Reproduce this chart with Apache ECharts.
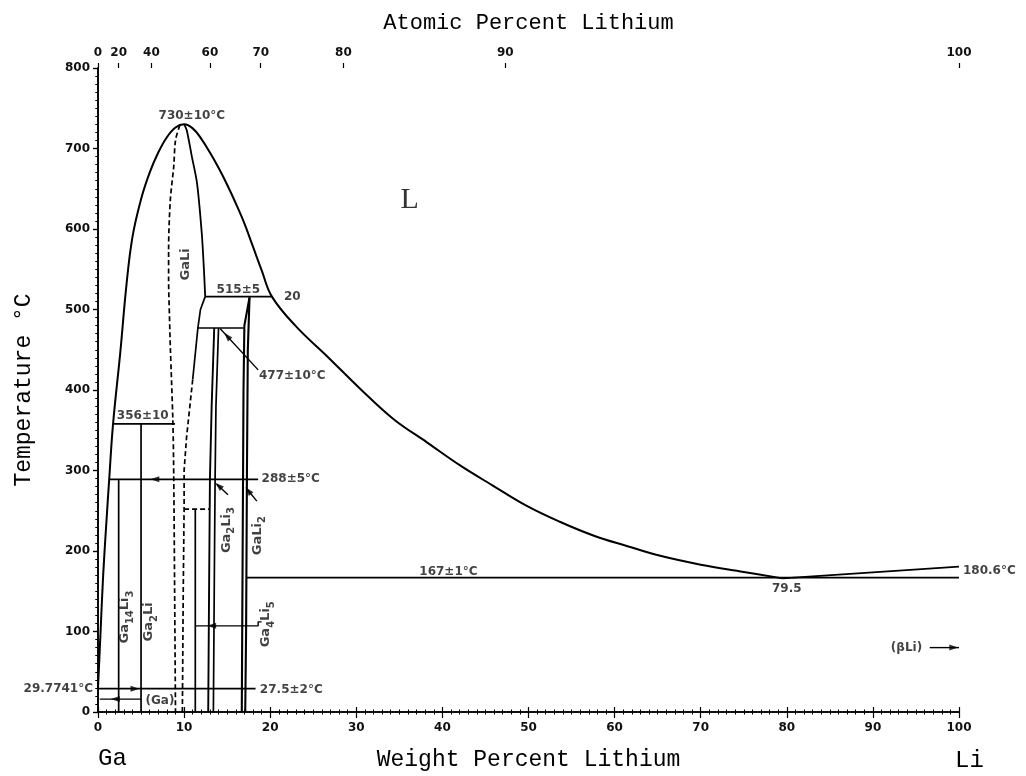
<!DOCTYPE html>
<html>
<head>
<meta charset="utf-8">
<script src="https://cdn.jsdelivr.net/npm/echarts@6/dist/echarts.min.js"></script>
<style>html,body{margin:0;padding:0;background:#fff}#c{width:1026px;height:776px}</style>
</head>
<body>
<div id="c"></div>
<script>
// ---------- DATA (wt% Li, temperature °C) ----------
const liquidus = [[0,29.8],[0.3,100],[0.6,170],[1.0,240],[1.3,289],[1.75,358],[2.6,448],[3.3,530],[4.0,590],[5.0,637],[6.0,670],[7.0,695],[8.0,714],[9.0,726],[10.0,730],[11.0,725],[12.0,712],[13.0,695],[14.0,676],[15.0,655],[16.0,632],[17.0,607],[18.0,578],[19.0,549],[20.2,516],[23.0,479],[26.6,442],[30.5,401],[34.3,364],[38.2,335],[42.1,306],[45.9,281],[49.8,256],[53.7,236],[57.6,219],[61.5,206],[65.3,194],[70,183],[75,174],[79.5,166]];
const liquidusLi = [[79.5,166],[100,180.6]];
const gaLiRightUpper = [[10.0,730],[10.3,723],[10.9,690],[11.5,657],[12.05,595],[12.3,550],[12.45,516]];
const gaLiRightMid = [[12.45,516],[11.9,500],[11.6,477],[11.0,413]];
const gaLiRightDashed = [[11.0,413],[10.3,343],[10.0,300],[10.0,252],[9.9,150],[9.8,0]];
const gaLiLeftDashed = [[9.5,729],[9.0,710],[8.8,678],[8.4,636],[8.2,574],[8.2,537],[8.3,492],[8.4,454],[8.7,360],[8.8,289],[8.9,150],[9.0,0]];
const step252 = [[10.0,252],[13.0,252]];
const ga14li3 = [[2.4,289],[2.4,0]];
const ga2li = [[5.0,358],[5.0,0]];
const ga4li5 = [[11.3,252],[11.3,0]];
const ga2li3Left = [[13.5,477],[13.2,380],[13.0,289],[12.9,150],[12.8,0]];
const ga2li3Right = [[14.0,477],[13.7,380],[13.6,289],[13.5,150],[13.4,0]];
const gaLi2Left = [[17.6,515],[17.0,480],[16.9,400],[16.8,200],[16.7,0]];
const gaLi2Right = [[17.6,515],[17.4,450],[17.3,300],[17.2,100],[17.1,0]];
const line356 = [[1.75,358],[8.95,358]];
const line515 = [[12.45,516],[20.2,516]];
const line477 = [[11.6,477],[16.9,477]];
const line288 = [[1.3,289],[18.6,289]];
const line27 = [[0,29],[18.3,29]];
const line167 = [[17.3,167],[100,167]];
const leaderGa = [[0.2,16],[5.0,16]];
const leader477 = [[14.2,476],[18.6,425]];
const leaderGa2Li3 = [[13.8,283],[15.1,270]];
const leaderGaLi2 = [[17.3,277],[18.45,262]];
const leaderGa4Li5 = [[11.3,107],[18.6,107],[18.6,112],[19.0,112]];
const leaderBetaLi = [[96.6,80],[100,80]];
// arrow heads: [x, T, rotation]
const arrowHeads = [[6.6,289,90],[13.2,107,90],[4.3,29,-90],[2.0,16,90],[99.4,80,-90],[15.0,467,42],[14.0,281,48],[17.45,275,40]];
// annotation texts and anchors
const noteText = ['730±10°C','515±5','20','356±10','477±10°C','288±5°C','27.5±2°C','29.7741°C','(Ga)','167±1°C','79.5','180.6°C','(βLi)'];
const noteX = [10.9,16.3,21.6,5.2,18.7,19.0,18.8,0,7.2,40.7,80.0,100,96.3];
const noteT = [740,524,516,368,418,289,28,29,14,174,153,175,80];
const noteAlign = ['center','center','left','center','left','left','left','right','center','center','center','left','right'];
const phaseText = ['GaLi','Ga₁₄Li₃','Ga₂Li','Ga₂Li₃','GaLi₂','Ga₄Li₅'];
const phaseX = [10.3,3.2,6.0,15.0,18.6,19.6];
const phaseT = [556,118,112,226,219,109];
// top axis: atomic % Li labels and their wt% positions
const topTickAt = [0,20,40,60,70,80,90,100];
const topTickWt = [0,2.4,6.2,13.0,18.9,28.5,47.3,100];

// ---------- CHART ----------
const chart = echarts.init(document.getElementById('c'), null, {renderer:'canvas'});
const numFont = {fontFamily:'DejaVu Sans, Liberation Sans, sans-serif', fontSize:12, fontWeight:'bold', color:'#111'};
const titleFont = {fontFamily:'Liberation Mono, Courier New, monospace', fontSize:23, color:'#000'};
const K = '#000';
const SUB = '₀₁₂₃₄₅₆₇₈₉';
function toRich(t) {
  let out = '', cur = '', mode = null;
  for (const ch of t) {
    const d = SUB.indexOf(ch);
    const m = d >= 0 ? 's' : 'm';
    const c = d >= 0 ? String(d) : ch;
    if (m !== mode && cur) { out += '{' + mode + '|' + cur + '}'; cur = ''; }
    mode = m; cur += c;
  }
  if (cur) out += '{' + mode + '|' + cur + '}';
  return out;
}
const phaseRich = {
  m:{fontFamily:'DejaVu Sans, sans-serif', fontSize:13, fontWeight:'bold', color:'#111', lineHeight:15, verticalAlign:'top'},
  s:{fontFamily:'DejaVu Sans, sans-serif', fontSize:10, fontWeight:'bold', color:'#111', lineHeight:11, padding:[7,0,0,0], verticalAlign:'top'}
};
function ln(data, opt) {
  opt = opt || {};
  return {type:'line', data:data, xAxisIndex:0, yAxisIndex:0, showSymbol:false, symbol:'none', silent:true,
    smooth: opt.smooth || false, clip:false, animation:false, z:3,
    lineStyle:{color:K, width: opt.w || 1.7, type: opt.dash ? [5,3] : 'solid'}};
}
const series = [
  ln(liquidus, {smooth:0.4, w:2}),
  ln(liquidusLi, {w:1.8}),
  ln(gaLiRightUpper, {smooth:0.3, w:1.8}),
  ln(gaLiRightMid),
  ln(gaLiRightDashed, {dash:true}),
  ln(gaLiLeftDashed, {dash:true, smooth:0.3}),
  ln(step252, {dash:true}),
  ln(ga14li3), ln(ga2li), ln(ga4li5),
  ln(ga2li3Left, {w:1.9}), ln(ga2li3Right, {w:1.7}),
  ln(gaLi2Left, {w:2.1}), ln(gaLi2Right, {w:2.1}),
  ln(line356), ln(line515), ln(line477), ln(line288), ln(line27), ln(line167, {w:1.8}),
  ln(leaderGa, {w:1.4}), ln(leader477, {w:1.4}), ln(leaderGa2Li3, {w:1.4}), ln(leaderGaLi2, {w:1.4}),
  ln(leaderGa4Li5, {w:1.4}), ln(leaderBetaLi, {w:1.4}),
  {type:'scatter', xAxisIndex:0, yAxisIndex:0, silent:true, animation:false, z:4,
   symbol:'triangle', symbolSize:[6,9], itemStyle:{color:K},
   data: arrowHeads.map(a => ({value:[a[0],a[1]], symbolRotate:a[2]}))},
  {type:'scatter', xAxisIndex:0, yAxisIndex:0, silent:true, animation:false, z:5, symbolSize:1,
   itemStyle:{color:'rgba(0,0,0,0)'},
   data: noteText.map((t,i) => ({value:[noteX[i], noteT[i]], label:{show:true, position:'inside',
     formatter:t, align:noteAlign[i], verticalAlign:'middle',
     offset:[noteAlign[i]==='right' ? -5 : (noteAlign[i]==='left' && noteX[i]===100 ? 4 : 0), 0],
     ...numFont}}))},
  {type:'scatter', xAxisIndex:0, yAxisIndex:0, silent:true, animation:false, z:5, symbolSize:1,
   itemStyle:{color:'rgba(0,0,0,0)'},
   data: phaseText.map((t,i) => ({value:[phaseX[i], phaseT[i]], label:{show:true, position:'inside',
     formatter:toRich(t), rotate:90, align:'center', verticalAlign:'middle', rich:phaseRich}}))},
  {type:'scatter', xAxisIndex:0, yAxisIndex:0, silent:true, animation:false, z:5, symbolSize:1,
   itemStyle:{color:'rgba(0,0,0,0)'},
   data:[{value:[36.2,636], label:{show:true, position:'inside', formatter:'L', align:'center', verticalAlign:'middle',
     fontFamily:'Liberation Serif, Times New Roman, serif', fontSize:30, color:'#000'}}]}
];

const option = {
  backgroundColor:'#fff',
  animation:false,
  grid:{left:98, right:67, top:68, bottom:63, containLabel:false},
  xAxis:[
    {type:'value', position:'bottom', min:0, max:100, interval:10,
     axisLine:{lineStyle:{color:K, width:1.6}},
     axisTick:{inside:true, length:5, lineStyle:{color:K, width:1.2}},
     minorTick:{show:true, splitNumber:10, length:2.5, lineStyle:{color:K, width:1}},
     axisLabel:{margin:10, ...numFont}, splitLine:{show:false},
     name:'Weight Percent Lithium', nameLocation:'middle', nameGap:36, nameTextStyle:titleFont},
    {type:'value', position:'top', min:0, max:100, interval:10,
     axisLine:{lineStyle:{color:K, width:1.6}},
     axisTick:{inside:true, length:6, lineStyle:{color:K, width:1.2}},
     minorTick:{show:true, splitNumber:10, length:2.5, lineStyle:{color:K, width:1}},
     axisLabel:{show:false}, splitLine:{show:false}},
    {type:'value', position:'top', min:0, max:100,
     axisLine:{show:false},
     axisTick:{show:true, inside:false, length:5, customValues:topTickWt, lineStyle:{color:K, width:1.2}},
     axisLabel:{show:true, margin:9, customValues:topTickWt, ...numFont,
       formatter:(v) => { const i = topTickWt.findIndex(w => Math.abs(w - v) < 1e-6); return i >= 0 ? String(topTickAt[i]) : ''; }},
     splitLine:{show:false},
     name:'Atomic Percent Lithium', nameLocation:'middle', nameGap:34, nameTextStyle:{...titleFont, fontSize:22}}
  ],
  yAxis:[
    {type:'value', position:'left', min:0, max:800, interval:100,
     axisLine:{show:true, lineStyle:{color:K, width:1.6}},
     axisTick:{show:true, inside:false, length:5, lineStyle:{color:K, width:1.2}},
     minorTick:{show:true, splitNumber:10, length:2.5, lineStyle:{color:K, width:1}},
     axisLabel:{margin:8, ...numFont}, splitLine:{show:false},
     name:'Temperature °C', nameLocation:'middle', nameGap:63, nameTextStyle:titleFont},
    {type:'value', position:'right', min:0, max:800, interval:100,
     axisLine:{show:true, lineStyle:{color:K, width:1.6}},
     axisTick:{show:true, inside:true, length:5, lineStyle:{color:K, width:1.2}},
     minorTick:{show:true, splitNumber:10, length:2.5, lineStyle:{color:K, width:1}},
     axisLabel:{show:false}, splitLine:{show:false}}
  ],
  graphic:[
    {type:'text', left:98, top:747, style:{text:'Ga', font:'24px "Liberation Mono", monospace', fill:'#000'}},
    {type:'text', left:955, top:749, style:{text:'Li', font:'24px "Liberation Mono", monospace', fill:'#000'}}
  ],
  series: series
};
chart.setOption(option);
</script>
</body>
</html>
